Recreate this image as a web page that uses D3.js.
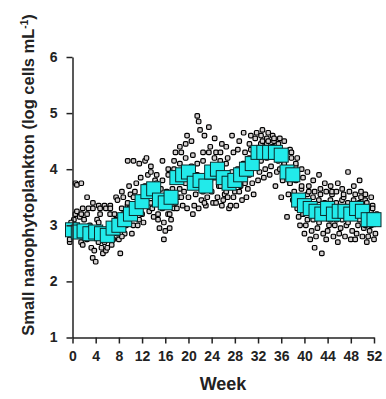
<!DOCTYPE html>
<html>
<head>
<meta charset="utf-8">
<script src="https://cdn.jsdelivr.net/npm/d3@7"></script>
<style>
  body { margin: 0; background: #fff; }
  svg text { font-family: Arial, "Liberation Sans", sans-serif; font-weight: bold; }
</style>
</head>
<body>
<div id="chart"></div>
<script>
// weekly means (cyan squares), weeks 0..52
var weeks = d3.range(0, 53);
var weekMeans = [2.92, 2.88, 2.9, 2.85, 2.88, 2.85, 2.82, 2.95, 3.0, 3.1, 3.2, 3.3, 3.42, 3.6,
  3.65, 3.45, 3.4, 3.5, 3.85, 3.9, 3.95, 3.75, 3.8, 3.7, 3.95, 4.0, 3.85, 3.75, 3.8, 3.9,
  4.0, 4.1, 4.3, 4.3, 4.3, 4.3, 4.25, 3.95, 3.9, 3.45, 3.35, 3.3, 3.25, 3.2, 3.3, 3.2,
  3.25, 3.25, 3.2, 3.3, 3.25, 3.1, 3.1];

// individual observations per week
var weekObs = [
  [2.7, 2.8, 3.0, 3.1, 3.2, 2.75, 3.05],
  [3.75, 3.72, 2.85, 3.15, 2.7, 3.0, 3.25],
  [3.75, 3.3, 3.1, 2.9, 2.75, 3.2, 2.65],
  [3.5, 3.3, 3.0, 2.6, 2.42, 3.2, 2.8],
  [3.4, 2.55, 2.35, 3.1, 2.7, 3.3, 2.9],
  [3.35, 3.2, 2.6, 2.5, 2.75, 3.05, 3.3],
  [3.35, 2.55, 2.6, 2.95, 3.2, 2.7, 3.3],
  [3.35, 2.65, 2.75, 3.2, 3.05, 3.3, 2.85],
  [3.5, 3.45, 2.75, 2.5, 3.3, 3.1, 2.85],
  [3.6, 3.5, 2.85, 3.0, 3.35, 2.8, 3.2],
  [4.15, 3.7, 3.55, 2.85, 3.0, 3.4, 3.3],
  [4.15, 3.6, 3.75, 3.0, 3.1, 3.5, 3.2],
  [4.1, 3.85, 3.2, 3.05, 3.6, 3.3, 3.5],
  [4.15, 4.2, 3.9, 3.25, 3.4, 3.7, 3.5],
  [4.05, 3.3, 3.15, 3.8, 3.5, 3.95, 3.6],
  [3.9, 3.1, 2.95, 3.65, 3.3, 3.75, 3.2],
  [4.15, 2.75, 2.9, 3.6, 3.2, 3.8, 3.05],
  [4.0, 2.95, 3.1, 3.65, 3.3, 3.9, 3.2],
  [4.15, 4.3, 3.3, 3.5, 3.65, 4.0, 3.4],
  [4.4, 4.3, 3.35, 3.6, 3.75, 4.1, 3.5],
  [4.45, 4.6, 3.5, 3.7, 3.85, 4.2, 3.3],
  [4.5, 4.25, 3.35, 3.55, 3.9, 4.05, 3.2],
  [4.95, 4.85, 4.7, 3.45, 3.6, 4.1, 3.3],
  [4.3, 4.6, 3.35, 3.5, 3.95, 4.15, 3.4],
  [4.75, 4.4, 3.6, 3.4, 4.2, 4.3, 3.8],
  [4.55, 4.3, 3.5, 3.7, 4.15, 3.85, 3.4],
  [4.3, 4.45, 3.45, 3.55, 4.1, 3.7, 3.35],
  [4.4, 4.2, 3.3, 3.35, 3.95, 3.6, 3.5],
  [4.6, 4.3, 3.6, 3.35, 4.0, 3.7, 3.5],
  [4.35, 4.5, 3.7, 3.45, 4.1, 3.85, 3.6],
  [4.65, 4.3, 3.5, 3.65, 4.2, 3.9, 3.75],
  [4.45, 4.6, 3.75, 3.55, 4.25, 3.9, 4.35],
  [4.55, 4.65, 3.8, 3.95, 4.45, 4.1, 4.35],
  [4.6, 4.7, 3.85, 4.0, 4.45, 4.15, 4.5],
  [4.55, 4.65, 3.9, 4.05, 4.4, 4.2, 4.5],
  [4.6, 4.5, 3.7, 3.95, 4.15, 4.4, 4.55],
  [4.45, 4.55, 3.5, 3.8, 4.1, 4.35, 4.0],
  [4.5, 4.3, 3.15, 3.55, 3.75, 4.1, 3.9],
  [4.35, 4.2, 3.45, 3.6, 4.05, 3.75, 4.3],
  [4.1, 4.2, 3.15, 3.0, 3.65, 3.8, 3.3],
  [4.0, 3.85, 2.85, 3.0, 3.55, 3.7, 3.2],
  [3.95, 3.7, 2.75, 2.9, 3.5, 3.1, 3.6],
  [3.8, 3.6, 2.8, 2.95, 3.45, 3.1, 2.6],
  [3.9, 3.55, 2.5, 2.85, 3.4, 3.05, 3.65],
  [3.75, 3.6, 2.9, 3.0, 3.45, 3.15, 2.75],
  [3.7, 3.55, 2.8, 3.0, 3.4, 3.1, 3.6],
  [3.6, 3.75, 2.85, 2.95, 3.45, 3.1, 2.7],
  [3.65, 3.5, 2.8, 3.0, 3.4, 3.1, 3.55],
  [3.95, 3.6, 2.75, 2.9, 3.45, 3.05, 3.3],
  [3.7, 3.55, 2.85, 3.0, 3.4, 3.15, 2.75],
  [3.8, 3.6, 2.8, 2.95, 3.45, 3.1, 3.5],
  [3.55, 3.4, 2.8, 2.9, 3.25, 3.0, 2.7],
  [3.5, 3.35, 2.75, 2.85, 3.2, 3.0, 3.3]
];

var xTicks = d3.range(0, 53, 4);
var yTicks = [1, 2, 3, 4, 5, 6];

var width = 386, height = 399;

var svg = d3.select("#chart").append("svg")
    .attr("width", width)
    .attr("height", height);

var x = d3.scaleLinear().domain([0, 52]).range([72.5, 374]);
var y = d3.scaleLinear().domain([1, 6]).range([337.5, 57]);

// flatten observations
var obs = [];
weekObs.forEach(function(vals, w) {
    vals.forEach(function(v, i) { obs.push({week: w, value: v, i: i}); });
});

var PT = 4.5;
svg.append("g")
    .selectAll("rect")
    .data(obs)
    .enter()
    .append("rect")
    .attr("x", function(d) { return x(d.week) + ((d.i % 5) - 2) * 1.4 - PT / 2; })
    .attr("y", function(d) { return y(d.value) - PT / 2; })
    .attr("width", PT)
    .attr("height", PT)
    .attr("rx", 1.2)
    .style("fill", "#d4d0d0")
    .style("stroke", "#000")
    .style("stroke-width", 1.2);

var SQ = 14;
svg.append("g")
    .selectAll("rect")
    .data(weeks)
    .enter()
    .append("rect")
    .attr("x", function(d) { return x(d) - SQ / 2; })
    .attr("y", function(d) { return y(weekMeans[d]) - SQ / 2; })
    .attr("width", SQ)
    .attr("height", SQ)
    .style("fill", "#22eaea")
    .style("stroke", "#0a2a2a")
    .style("stroke-width", 1);

var yAxis = svg.append("g")
    .attr("transform", "translate(72.5,0)")
    .call(d3.axisLeft(y).tickValues(yTicks).tickFormat(d3.format("d"))
        .tickSize(6).tickSizeOuter(0).tickPadding(9));

var xAxis = svg.append("g")
    .attr("transform", "translate(0,337.5)")
    .call(d3.axisBottom(x).tickValues(xTicks).tickFormat(d3.format("d"))
        .tickSize(6).tickSizeOuter(0).tickPadding(8));

[xAxis, yAxis].forEach(function(a) {
    a.select(".domain").attr("stroke", "#222").attr("stroke-width", 1.5);
    a.selectAll(".tick line").attr("stroke", "#222").attr("stroke-width", 1.5);
    a.selectAll(".tick text").attr("fill", "#222").style("font-size", "14px");
});

svg.append("text")
    .attr("x", 223)
    .attr("y", 390)
    .attr("text-anchor", "middle")
    .style("font-size", "18px")
    .attr("fill", "#222")
    .text("Week");

var title = svg.append("text")
    .attr("transform", "translate(34,175) rotate(-90)")
    .attr("text-anchor", "middle")
    .style("font-size", "16.5px")
    .attr("fill", "#222");
title.append("tspan").text("Small nanophytoplankton (log cells mL");
title.append("tspan").attr("dy", -6).style("font-size", "10px").text("-1");
title.append("tspan").attr("dy", 6).text(")");
</script>
</body>
</html>
